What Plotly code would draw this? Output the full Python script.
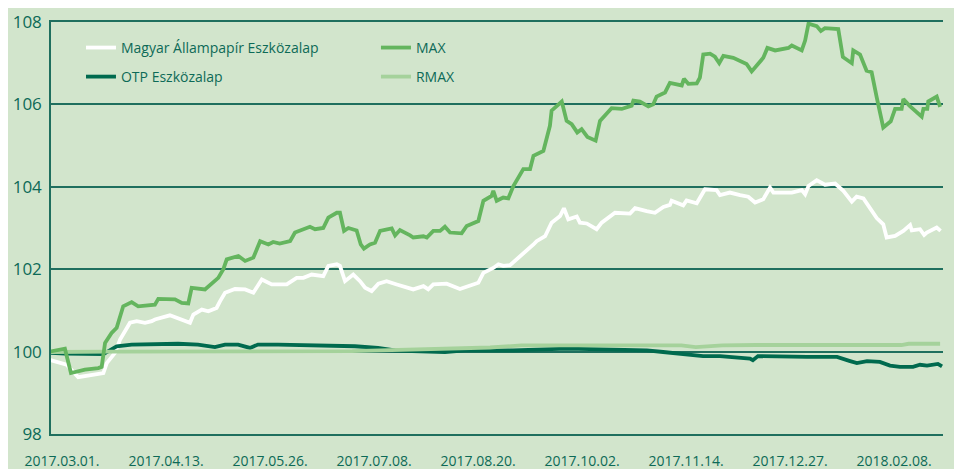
import pandas as pd
import plotly.graph_objects as go

# x values: days relative to 2017-03-01
magyar_days = [-5, 0, 1.9, 6.7, 12.3, 17.1, 18.5, 21.9, 24.0, 28.1, 30.9, 34.3, 37.1, 38.4, 44.6, 49.5, 52.9, 54.3,
               57.8, 60.5, 63.9, 65.3, 67.4, 71.5, 75.7, 79.1, 82.6, 86.7, 92.9, 97.0, 99.8, 103.2, 108.0, 110.1,
               113.6, 114.9, 117.0, 120.4, 123.2, 125.3, 128.0, 130.8, 134.2, 138.4, 141.1, 145.2, 149.4, 151.4,
               153.5, 159.0, 164.5, 168.7, 172.1, 174.2, 178.3, 180.4, 182.4, 185.2, 189.3, 192.1, 194.9, 196.2,
               199.7, 202.4, 205.9, 207.5, 209.3, 212.8, 214.1, 216.9, 221.0, 223.1, 228.6, 234.8, 236.9, 241.7,
               245.1, 248.6, 251.3, 252.0, 256.8, 258.2, 262.4, 265.8, 270.6, 272.0, 276.1, 280.3, 283.7, 286.5,
               289.9, 292.7, 294.1, 301.7, 305.8, 307.2, 308.6, 312.0, 315.4, 319.6, 320.9, 323.0, 326.5, 328.5,
               331.3, 334.0, 336.8, 339.5, 340.9, 344.4, 347.8, 350.6, 351.3, 354.7, 356.4, 357.5, 361.6, 363.2]
magyar_vals = [99.8, 99.72, 99.68, 99.38, 99.44, 99.48, 99.72, 99.97, 100.29, 100.7, 100.74, 100.7, 100.74, 100.78,
               100.88, 100.78, 100.7, 100.9, 101.02, 100.98, 101.06, 101.22, 101.43, 101.52, 101.51, 101.43, 101.75,
               101.63, 101.63, 101.79, 101.79, 101.87, 101.83, 102.08, 102.12, 102.08, 101.71, 101.87, 101.71, 101.55,
               101.47, 101.65, 101.71, 101.63, 101.59, 101.51, 101.59, 101.51, 101.63, 101.65, 101.52, 101.59, 101.67,
               101.91, 102.03, 102.12, 102.08, 102.1, 102.3, 102.44, 102.6, 102.68, 102.8, 103.13, 103.29, 103.48,
               103.21, 103.28, 103.13, 103.11, 102.97, 103.13, 103.37, 103.35, 103.48, 103.41, 103.37, 103.51, 103.56,
               103.66, 103.55, 103.67, 103.6, 103.94, 103.92, 103.8, 103.86, 103.8, 103.76, 103.62, 103.7, 103.98,
               103.86, 103.86, 103.92, 103.82, 104.02, 104.16, 104.05, 104.08, 104.0, 103.9, 103.64, 103.76, 103.72,
               103.5, 103.24, 103.09, 102.77, 102.81, 102.93, 103.07, 102.94, 102.97, 102.83, 102.89, 103.01, 102.93]

max_days = [-5, 1.2, 3.7, 9.5, 15.0, 16.4, 17.8, 20.5, 22.6, 25.3, 28.8, 31.5, 38.4, 39.8, 46.7, 49.5, 52.2, 53.6,
            59.1, 64.6, 66.7, 68.1, 72.9, 75.7, 79.1, 81.9, 85.3, 87.3, 90.0, 94.3, 96.3, 99.8, 102.5, 104.6, 108.0,
            110.1, 113.6, 114.9, 116.6, 118.4, 121.8, 123.5, 124.8, 127.3, 129.4, 131.5, 136.3, 137.7, 139.7, 143.9,
            145.2, 149.4, 150.8, 153.5, 156.3, 158.3, 160.4, 165.2, 167.3, 172.1, 174.2, 177.6, 178.3, 179.7, 182.4,
            184.5, 186.6, 190.7, 193.5, 194.9, 199.0, 201.7, 202.4, 206.6, 208.6, 210.7, 213.0, 214.8, 217.2, 220.6,
            222.4, 225.2, 227.2, 231.4, 235.5, 236.2, 238.9, 242.4, 244.4, 245.8, 249.3, 251.3, 256.2, 257.1, 258.9,
            262.4, 263.7, 265.1, 267.9, 269.9, 271.7, 273.4, 277.5, 283.0, 285.1, 289.9, 291.6, 294.8, 300.3, 301.7,
            305.8, 307.2, 308.6, 312.0, 313.7, 315.4, 320.9, 322.8, 326.5, 327.1, 329.9, 332.6, 334.7, 336.8, 339.5,
            342.6, 344.4, 347.1, 347.8, 350.3, 355.4, 356.1, 357.7, 358.1, 361.6, 363.0]
max_vals = [100.0, 100.07, 99.48, 99.56, 99.6, 99.63, 100.21, 100.45, 100.58, 101.1, 101.2, 101.1, 101.14, 101.28,
            101.27, 101.18, 101.17, 101.55, 101.51, 101.79, 102.0, 102.24, 102.32, 102.2, 102.28, 102.68, 102.6,
            102.66, 102.62, 102.68, 102.89, 102.97, 103.03, 102.97, 103.0, 103.25, 103.37, 103.37, 102.93, 103.0,
            102.94, 102.6, 102.5, 102.6, 102.64, 102.93, 102.99, 102.82, 102.95, 102.82, 102.77, 102.8, 102.77,
            102.93, 102.93, 103.03, 102.89, 102.87, 103.05, 103.17, 103.66, 103.78, 103.9, 103.66, 103.74, 103.72,
            104.02, 104.43, 104.43, 104.75, 104.87, 105.48, 105.85, 106.07, 105.6, 105.52, 105.32, 105.4, 105.21,
            105.12, 105.6, 105.78, 105.91, 105.89, 105.97, 106.09, 106.07, 105.95, 106.0, 106.19, 106.29, 106.52,
            106.46, 106.62, 106.5, 106.51, 106.65, 107.21, 107.23, 107.16, 107.0, 107.18, 107.13, 106.98, 106.8,
            107.13, 107.37, 107.31, 107.37, 107.43, 107.31, 107.55, 107.96, 107.9, 107.78, 107.85, 107.83, 107.15,
            107.0, 107.31, 107.21, 106.82, 106.78, 106.17, 105.44, 105.59, 105.89, 105.89, 106.13, 105.97, 105.7,
            105.89, 105.89, 106.07, 106.19, 105.94]

otp_days = [-5, 1.2, 17.1, 22.6, 28.8, 48.0, 56.2, 63.2, 67.4, 72.8, 77.7, 81.0, 89.3, 103.3, 117.0, 121.1, 130.6,
            137.7, 144.7, 158.3, 166.6, 176.9, 186.4, 208.8, 241.8, 248.5, 256.7, 265.0, 272.0, 279.0, 284.4, 285.6,
            287.7, 308.0, 320.4, 325.8, 328.6, 332.8, 338.1, 342.3, 346.4, 351.8, 354.7, 357.6, 362.1, 363.8]
otp_vals = [99.97, 99.95, 99.94, 100.13, 100.17, 100.19, 100.17, 100.11, 100.17, 100.17, 100.09, 100.17, 100.17,
            100.15, 100.15, 100.13, 100.09, 100.03, 100.01, 99.99, 100.03, 100.03, 100.03, 100.07, 100.03, 99.99,
            99.95, 99.89, 99.89, 99.85, 99.83, 99.79, 99.89, 99.87, 99.87, 99.77, 99.72, 99.77, 99.75, 99.66, 99.63,
            99.63, 99.68, 99.66, 99.70, 99.64]

rmax_days = [-5, 20, 120, 140, 150, 165, 177, 190, 207, 256, 262, 273, 287, 347, 350, 363]
rmax_vals = [99.99, 100.0, 100.01, 100.04, 100.05, 100.07, 100.1, 100.15, 100.15, 100.15, 100.11, 100.15, 100.16,
             100.16, 100.19, 100.19]

tick_dates = ["2017-03-01", "2017-04-13", "2017-05-26", "2017-07-08", "2017-08-20",
              "2017-10-02", "2017-11-14", "2017-12-27", "2018-02-08"]
tick_labels = ["2017.03.01.", "2017.04.13.", "2017.05.26.", "2017.07.08.", "2017.08.20.",
               "2017.10.02.", "2017.11.14.", "2017.12.27.", "2018.02.08."]
y_ticks = [98, 100, 102, 104, 106, 108]

base = pd.Timestamp("2017-03-01")


def to_dates(days):
    return base + pd.to_timedelta(days, unit="D")


TEXT = "#0d6a57"
GRID = "#1f6f5e"
BG = "#d2e5cc"
FONT = "Open Sans"

fig = go.Figure()
fig.add_trace(go.Scatter(x=to_dates(magyar_days), y=magyar_vals, mode="lines", name="Magyar Állampapír Eszközalap",
                         line=dict(color="#ffffff", width=3.8), legend="legend"))
fig.add_trace(go.Scatter(x=to_dates(otp_days), y=otp_vals, mode="lines", name="OTP Eszközalap",
                         line=dict(color="#006a4e", width=3.8), legend="legend3"))
fig.add_trace(go.Scatter(x=to_dates(rmax_days), y=rmax_vals, mode="lines", name="RMAX",
                         line=dict(color="#a5d29b", width=3.8), legend="legend4"))
fig.add_trace(go.Scatter(x=to_dates(max_days), y=max_vals, mode="lines", name="MAX",
                         line=dict(color="#64b55e", width=3.8), legend="legend2"))

x0 = base + pd.Timedelta(days=-4.55)
x1 = base + pd.Timedelta(days=364.2)

leg_common = dict(bgcolor="rgba(0,0,0,0)", font=dict(family=FONT, size=14, color=TEXT),
                  xanchor="left", yanchor="middle", borderwidth=0)
col1, col2 = 0.0336, 0.3643
row1, row2 = 0.937, 0.8665

fig.update_layout(
    width=962, height=469,
    margin=dict(l=43, r=27, t=14, b=43),
    paper_bgcolor=BG, plot_bgcolor=BG,
    font=dict(family=FONT, color=TEXT),
    showlegend=True,
    legend=dict(x=col1, y=row1, **leg_common),
    legend2=dict(x=col2, y=row1, **leg_common),
    legend3=dict(x=col1, y=row2, **leg_common),
    legend4=dict(x=col2, y=row2, **leg_common),
    xaxis=dict(range=[x0, x1], tickvals=pd.to_datetime(tick_dates), ticktext=tick_labels,
               showgrid=False, zeroline=False, showline=True, mirror=True, linecolor=GRID, linewidth=1.5,
               ticks="", tickfont=dict(family=FONT, size=14, color=TEXT), ticklabelstandoff=13,
               automargin=False),
    yaxis=dict(range=[98, 108], tickvals=y_ticks, showgrid=True, gridcolor=GRID, gridwidth=1.5,
               zeroline=False, showline=True, linecolor=GRID, linewidth=1.5, ticks="",
               tickfont=dict(family=FONT, size=17, color=TEXT), ticklabelstandoff=4, automargin=False),
)

fig.write_html("out.html")
